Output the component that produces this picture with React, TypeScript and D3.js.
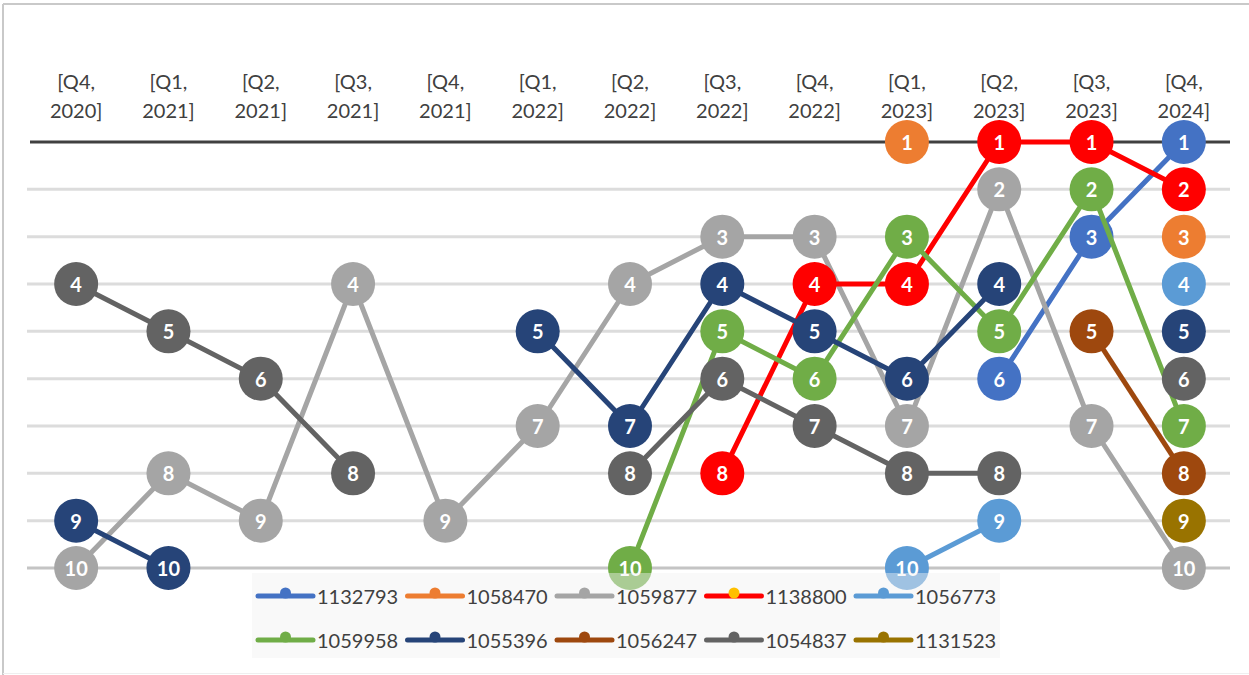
import React, { useRef, useEffect } from 'react';
import * as d3 from 'd3';

const categories = [
  '[Q4, 2020]', '[Q1, 2021]', '[Q2, 2021]', '[Q3, 2021]', '[Q4, 2021]', '[Q1, 2022]', '[Q2, 2022]',
  '[Q3, 2022]', '[Q4, 2022]', '[Q1, 2023]', '[Q2, 2023]', '[Q3, 2023]', '[Q4, 2024]',
];

const seriesNames = ['1132793', '1058470', '1059877', '1138800', '1056773', '1059958', '1055396', '1056247', '1054837', '1131523'];
const seriesColors = ['#4472C4', '#ED7D31', '#A5A5A5', '#FF0000', '#5B9BD5', '#70AD47', '#264478', '#9E480E', '#636363', '#997300'];
// legend marker colours (the red series keeps a gold marker in the legend)
const legendMarkerColors = ['#4472C4', '#ED7D31', '#A5A5A5', '#FFC000', '#5B9BD5', '#70AD47', '#264478', '#9E480E', '#636363', '#997300'];

const _ = null;
const s1132793 = [_, _, _, _, _, _, _, _, _, _, 6, 3, 1];
const s1058470 = [_, _, _, _, _, _, _, _, _, 1, _, _, 3];
const s1059877 = [10, 8, 9, 4, 9, 7, 4, 3, 3, 7, 2, 7, 10];
const s1138800 = [_, _, _, _, _, _, _, 8, 4, 4, 1, 1, 2];
const s1056773 = [_, _, _, _, _, _, _, _, _, 10, 9, _, 4];
const s1059958 = [_, _, _, _, _, _, 10, 5, 6, 3, 5, 2, 7];
const s1055396 = [9, 10, _, _, _, 5, 7, 4, 5, 6, 4, _, 5];
const s1056247 = [_, _, _, _, _, _, _, _, _, _, _, 5, 8];
const s1054837 = [4, 5, 6, 8, _, _, 8, 6, 7, 8, 8, _, 6];
const s1131523 = [_, _, _, _, _, _, _, _, _, _, _, _, 9];

const seriesValues = [s1132793, s1058470, s1059877, s1138800, s1056773, s1059958, s1055396, s1056247, s1054837, s1131523];
const ranks = [1, 2, 3, 4, 5, 6, 7, 8, 9, 10];

const App = () => {
  const ref = useRef(null);

  useEffect(() => {
    if (!ref.current) return;
    const svg = d3.select(ref.current);
    svg.selectAll('*').remove();

    const W = 1249, H = 675;
    const font = 'Lato, "Open Sans", sans-serif';

    svg.append('rect').attr('width', W).attr('height', H).attr('fill', '#fff');

    // chart border
    svg.append('line').attr('x1', 3).attr('x2', W).attr('y1', 4).attr('y2', 4).attr('stroke', '#C9C9C9').attr('stroke-width', 2);
    svg.append('line').attr('x1', 3).attr('x2', 3).attr('y1', 4).attr('y2', H).attr('stroke', '#C9C9C9').attr('stroke-width', 2);
    svg.append('line').attr('x1', 3).attr('x2', W).attr('y1', 673.5).attr('y2', 673.5).attr('stroke', '#EFEFEF').attr('stroke-width', 1);

    const x = d3.scalePoint().domain(categories).range([30, 1230]).padding(0.5);
    const y = d3.scaleLinear().domain([1, 10]).range([142, 568]);

    // gridlines
    svg.append('g')
      .selectAll('line')
      .data(ranks.slice(1))
      .join('line')
      .attr('x1', 27).attr('x2', 1230)
      .attr('y1', d => y(d)).attr('y2', d => y(d))
      .attr('stroke', d => (d === 10 ? '#C4C4C4' : '#DCDCDC'))
      .attr('stroke-width', 3);

    // category axis along the top (rank 1)
    svg.append('line').attr('x1', 30).attr('x2', 1230).attr('y1', y(1)).attr('y2', y(1))
      .attr('stroke', '#404040').attr('stroke-width', 3);

    const labels = svg.append('g').selectAll('text').data(categories).join('text')
      .attr('x', d => x(d))
      .attr('text-anchor', 'middle')
      .style('font-family', font)
      .style('font-size', '20px')
      .attr('fill', '#404040');
    labels.append('tspan').attr('x', d => x(d)).attr('y', 89).text(d => d.split(' ')[0]);
    labels.append('tspan').attr('x', d => x(d)).attr('y', 118).text(d => d.split(' ')[1]);

    const line = d3.line()
      .defined(d => d != null)
      .x((d, i) => x(categories[i]))
      .y(d => y(d));

    // each series: line then markers, later series on top
    seriesValues.forEach((vals, si) => {
      const g = svg.append('g');
      g.append('path')
        .datum(vals)
        .attr('d', line)
        .attr('fill', 'none')
        .attr('stroke', seriesColors[si])
        .attr('stroke-width', 5)
        .attr('stroke-linejoin', 'round');

      const pts = vals.map((v, i) => ({ v, i })).filter(p => p.v != null);
      const m = g.selectAll('g.m').data(pts).join('g')
        .attr('transform', p => `translate(${x(categories[p.i])},${y(p.v)})`);
      m.append('circle').attr('r', 22).attr('fill', seriesColors[si]);
      m.append('text')
        .attr('text-anchor', 'middle')
        .attr('y', 8)
        .style('font-family', font)
        .style('font-size', '20px')
        .style('font-weight', 'bold')
        .attr('fill', '#fff')
        .text(p => p.v);
    });

    // legend
    const lg = svg.append('g');
    lg.append('rect').attr('x', 252).attr('y', 573).attr('width', 748).attr('height', 85)
      .attr('fill', '#F2F2F2').attr('fill-opacity', 0.45);
    const item = lg.selectAll('g.item').data(seriesNames).join('g')
      .attr('transform', (d, i) => `translate(${258 + (i % 5) * 149.5},${i < 5 ? 596 : 640})`);
    item.append('line').attr('x1', 0).attr('x2', 55).attr('y1', 0).attr('y2', 0)
      .attr('stroke', (d, i) => seriesColors[i]).attr('stroke-width', 5).attr('stroke-linecap', 'round');
    item.append('circle').attr('cx', 27.5).attr('cy', -3).attr('r', 5.5)
      .attr('fill', (d, i) => legendMarkerColors[i]);
    item.append('text').attr('x', 59).attr('y', 7.5)
      .style('font-family', font)
      .style('font-size', '20px')
      .attr('fill', '#404040')
      .text(d => d);
  }, []);

  return <svg ref={ref} width={1249} height={675} style={{ position: 'fixed', left: 0, top: 0 }} />;
};

export default App;
